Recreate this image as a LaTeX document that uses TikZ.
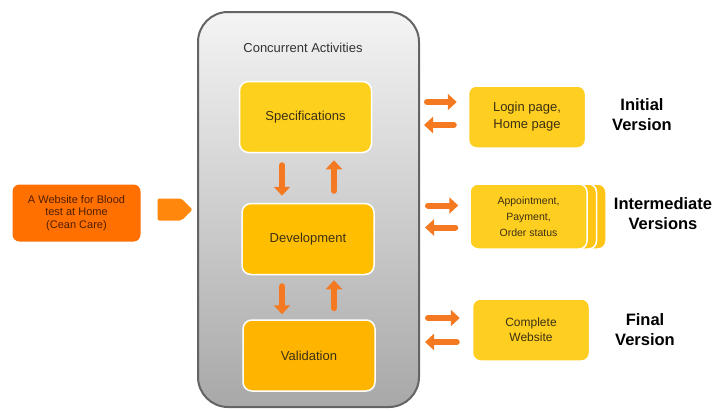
\documentclass[tikz,border=0pt]{standalone}
\usepackage{fontspec}
\setmainfont{Liberation Sans}
\usepackage{tikz}
\usetikzlibrary{positioning,arrows.meta,shapes.symbols}
\definecolor{specyellow}{RGB}{254,208,30}
\definecolor{devamber}{RGB}{255,191,0}
\definecolor{valamber}{RGB}{255,181,0}
\definecolor{veryellow}{RGB}{254,206,32}
\definecolor{layerback}{RGB}{255,196,20}
\definecolor{siteorange}{RGB}{255,112,0}
\definecolor{pinorange}{RGB}{255,136,12}
\definecolor{arroworange}{RGB}{244,121,32}
\definecolor{contborder}{RGB}{100,100,100}
\definecolor{conttop}{RGB}{244,244,244}
\definecolor{contbottom}{RGB}{168,168,168}
\definecolor{phasetext}{RGB}{60,48,20}
\definecolor{sitetext}{RGB}{80,30,0}

\begin{document}
\begin{tikzpicture}[x=1pt, y=-1pt,
  phase/.style={rectangle, rounded corners=9pt, draw=white, line width=1.5pt, minimum width=132pt, minimum height=71pt, text=phasetext, font=\fontsize{13}{16}\selectfont},
  version/.style={rectangle, rounded corners=8pt, draw=white, line width=1.5pt, fill=veryellow, minimum width=117pt, minimum height=62pt, align=center, text=phasetext},
  vlabel/.style={font=\fontsize{16.5}{20}\selectfont\bfseries, align=center},
  blockarrow/.style={draw=arroworange, line width=6pt, line cap=round, -{Triangle[width=16pt,length=9pt]}}]
\useasboundingbox (0,0) rectangle (726,410);

% container with the three activities
\node[rectangle, rounded corners=30pt, draw=contborder, line width=2pt, top color=conttop, bottom color=contbottom, minimum width=221pt, minimum height=395pt] (cont) at (308.5,209.5) {};
\node[font=\fontsize{13}{16}\selectfont, text=black!80] (title) at (303,48) {Concurrent Activities};
\node[phase, fill=specyellow] (spec) at (305.5,117) {Specifications};
\node[phase, fill=devamber] (dev) at (308,239) {Development};
\node[phase, fill=valamber] (val) at (309,355.5) {Validation};

\draw[blockarrow, shorten <=12pt, shorten >=7pt] ([xshift=-26pt]dev.north |- spec.south) -- ([xshift=-26pt]dev.north);
\draw[blockarrow, shorten <=12pt, shorten >=7pt] ([xshift=26pt]dev.north) -- ([xshift=26pt]dev.north |- spec.south);
\draw[blockarrow, shorten <=11pt, shorten >=5pt] ([xshift=-26pt]dev.south) -- ([xshift=-26pt]dev.south |- val.north);
\draw[blockarrow, shorten <=11pt, shorten >=5pt] ([xshift=26pt]dev.south |- val.north) -- ([xshift=26pt]dev.south);

% input
\node[rectangle, rounded corners=7pt, fill=siteorange, minimum width=128pt, minimum height=57pt, align=center, text=sitetext, font=\fontsize{11}{12.5}\selectfont] (site) at (76.5,213) {A Website for Blood\\test at Home\\(Cean Care)};
\node[signal, signal to=east, signal pointer angle=90, fill=pinorange, minimum width=35pt, minimum height=22pt, rounded corners=2pt, inner sep=0pt] (pin) at (169.5,209.5) {};

% versions
\node[version, font=\fontsize{13}{17}\selectfont] (login) at (527,117) {Login page,\\Home page};
\node[version, fill=layerback, minimum height=65pt] (interm2) at (547.5,216.5) {};
\node[version, fill=layerback, minimum height=65pt] (interm1) at (538,216.5) {};
\node[version, minimum height=65pt, font=\fontsize{10.5}{16}\selectfont] (interm) at (528.5,216.5) {Appointment,\\Payment,\\Order status};
\node[version, font=\fontsize{12}{15}\selectfont] (complete) at (531,330) {Complete\\Website};

\draw[blockarrow, shorten <=7pt, shorten >=11pt] ([yshift=15pt]login.west -| cont.east) -- ([yshift=15pt]login.west);
\draw[blockarrow, shorten <=14pt, shorten >=4pt] ([yshift=-8pt]login.west) -- ([yshift=-8pt]login.west -| cont.east);
\draw[blockarrow, shorten <=8pt, shorten >=11pt] ([yshift=11pt]interm.west -| cont.east) -- ([yshift=11pt]interm.west);
\draw[blockarrow, shorten <=14pt, shorten >=5pt] ([yshift=-11pt]interm.west) -- ([yshift=-11pt]interm.west -| cont.east);
\draw[blockarrow, shorten <=8pt, shorten >=12pt] ([yshift=12pt]complete.west -| cont.east) -- ([yshift=12pt]complete.west);
\draw[blockarrow, shorten <=15pt, shorten >=5pt] ([yshift=-12pt]complete.west) -- ([yshift=-12pt]complete.west -| cont.east);

\node[vlabel] (initial) at (642,115) {Initial\\Version};
\node[vlabel] (inter) at (663,214) {Intermediate\\Versions};
\node[vlabel] (final) at (645,330) {Final\\Version};
\end{tikzpicture}
\end{document}
